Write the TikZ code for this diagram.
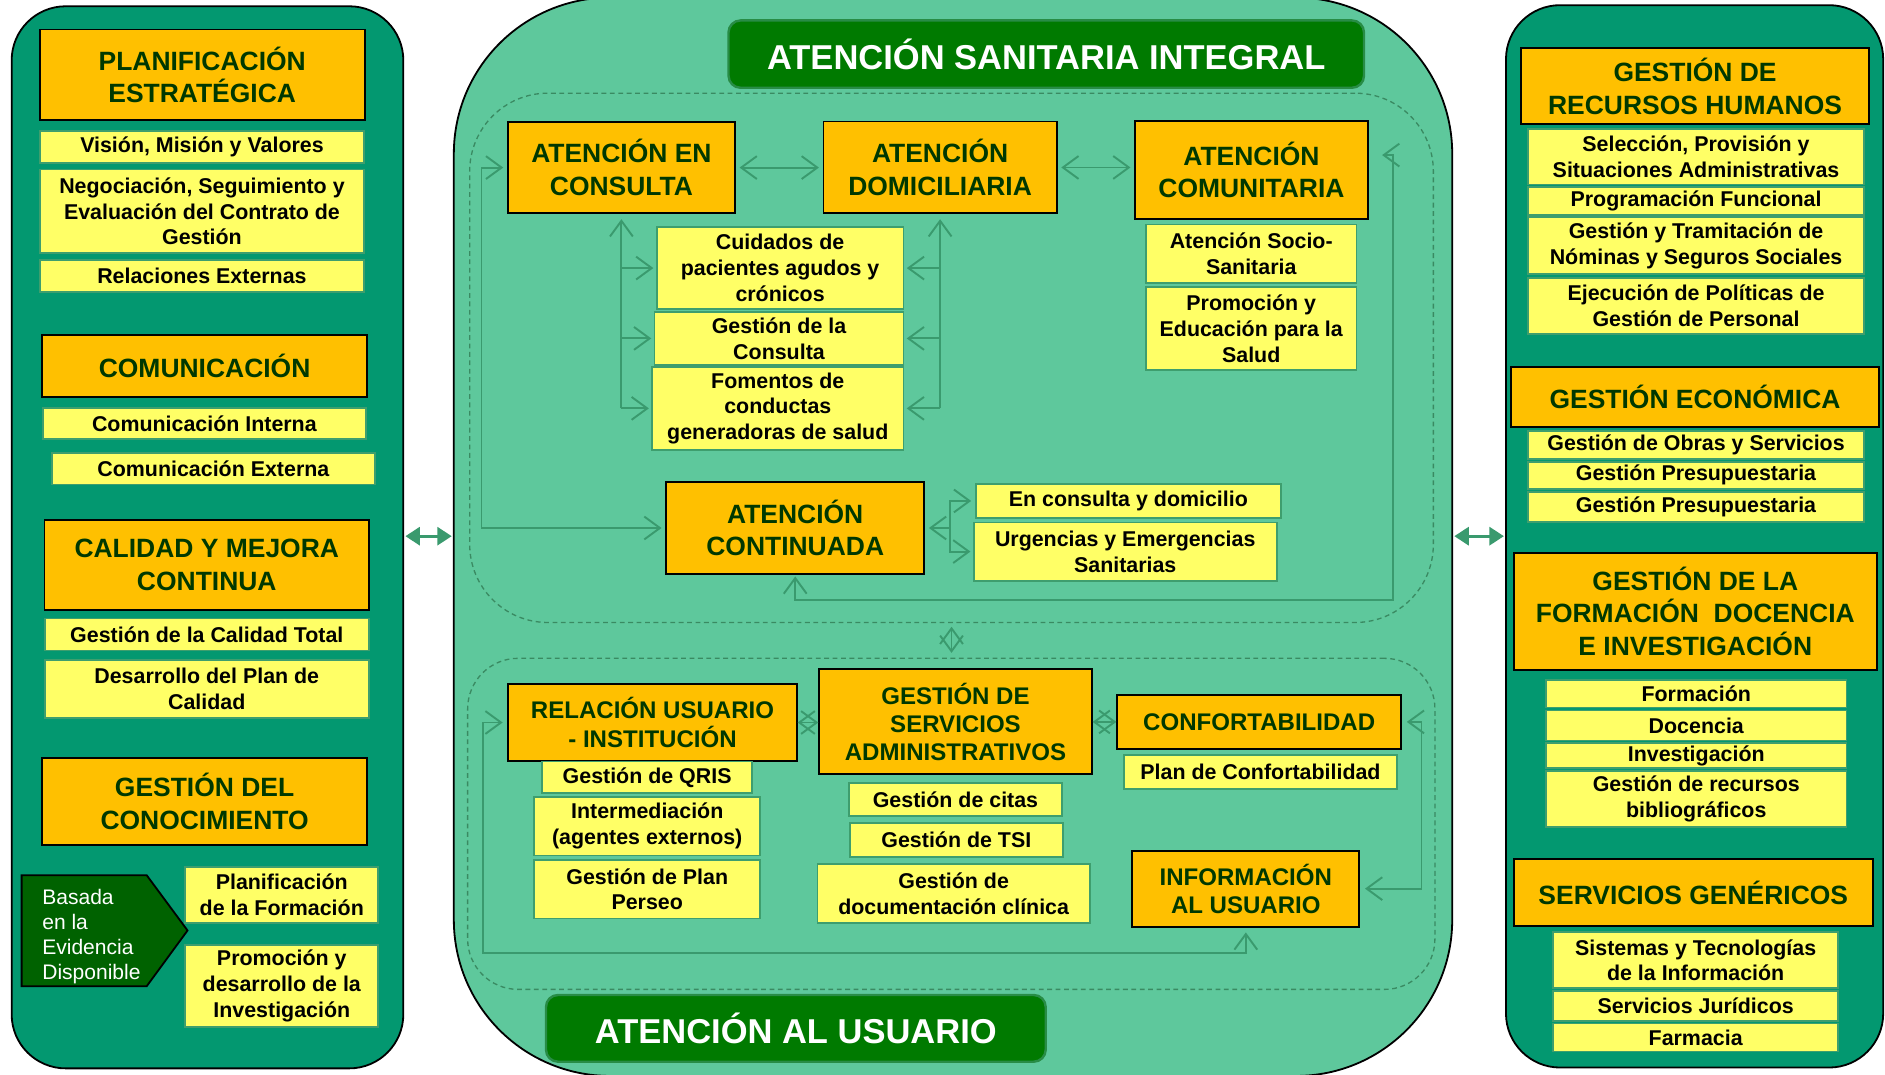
\documentclass[tikz,border=0pt]{standalone}
\usepackage{fontspec}
\setmainfont{Liberation Sans}
\usetikzlibrary{arrows.meta}
\definecolor{panelC}{RGB}{3,152,112}
\definecolor{centerC}{RGB}{94,200,156}
\definecolor{orangeC}{RGB}{255,192,0}
\definecolor{yellowC}{RGB}{255,255,102}
\definecolor{ybordC}{RGB}{62,158,110}
\definecolor{headC}{RGB}{0,56,0}
\definecolor{lineC}{RGB}{58,154,110}
\definecolor{dashC}{RGB}{58,138,98}
\definecolor{titleC}{RGB}{0,122,0}
\definecolor{titleBord}{RGB}{40,140,70}
\definecolor{basadaC}{RGB}{0,98,0}
\tikzset{
  sz/.style 2 args={minimum width=#1pt, minimum height=#2pt},
  panel/.style={draw=black, line width=1.5pt, fill=panelC, rounded corners=45pt, inner sep=0pt},
  cpanel/.style={draw=black, line width=1.5pt, fill=centerC, rounded corners=130pt, inner sep=0pt},
  obox/.style={draw=black, line width=1.6pt, fill=orangeC, text=headC, align=center, inner sep=0pt, font=\bfseries\fontsize{22}{27}\selectfont},
  mbox/.style={obox, font=\bfseries\fontsize{20}{23.5}\selectfont},
  ybox/.style={draw=ybordC, line width=1.5pt, fill=yellowC, text=black, align=center, inner sep=0pt, font=\bfseries\fontsize{17.8}{21.5}\selectfont},
  tbox/.style={draw=titleBord, line width=2pt, fill=titleC, text=white, rounded corners=10pt, inner sep=0pt, font=\bfseries\fontsize{28.7}{32}\selectfont},
  dbox/.style={draw=dashC, line width=1.1pt, dash pattern=on 4pt off 3pt, inner sep=0pt},
  conn/.style={draw=lineC, line width=1.6pt, >={Straight Barb[length=13pt,width=19pt]}},
  bigarr/.style={draw=lineC, line width=2.4pt, {Triangle[length=12pt,width=15pt]}-{Triangle[length=12pt,width=15pt]}},
  basadashape/.style={draw=black, line width=1.5pt, fill=basadaC},
  basadatext/.style={text=white, align=left, anchor=west, inner sep=0pt, font=\fontsize{17.5}{21}\selectfont},
}
\begin{document}
\begin{tikzpicture}[x=1pt,y=-1pt]
\useasboundingbox (0,0) rectangle (1568,894);
\fill[white] (0,0) rectangle (1568,894);

% panels
\node[panel, sz={325.8}{883.5}] (lp) at (172.6,446.95) {};
\node[panel, sz={313.8}{883.7}] (rp) at (1409.6,446.15) {};
\node[cpanel, sz={830.5}{897}] (cp) at (792.75,446.5) {};

\node[dbox, rounded corners=65pt, sz={801.6}{440.3}] (sec1) at (791.5,297.65) {};
\node[dbox, rounded corners=42pt, sz={804.6}{275.4}] (sec2) at (791.3,685.3) {};

\node[tbox, sz={528.6}{56}] (t1) at (870.3,45) {ATENCIÓN SANITARIA INTEGRAL};
\node[tbox, sz={415.7}{55.5}] (t2) at (662,855.4) {ATENCIÓN AL USUARIO};

% left panel
\node[obox, sz={270.5}{75.5}] (plan) at (168.2,62.3) {PLANIFICACIÓN\\ESTRATÉGICA};
\node[ybox, sz={269.5}{26.4}] (vision) at (168,122.3) {Visión, Misión y Valores};
\node[ybox, sz={269.5}{69.5}] (negoc) at (168,175.8) {Negociación, Seguimiento y\\Evaluación del Contrato de\\Gestión};
\node[ybox, sz={269.5}{26.7}] (relext) at (168,229.8) {Relaciones Externas};
\node[obox, sz={270.5}{51.5}] (comun) at (170.2,304.6) {COMUNICACIÓN};
\node[ybox, sz={269}{25.7}] (cint) at (170,352.2) {Comunicación Interna};
\node[ybox, sz={269}{26.4}] (cext) at (177.5,389.8) {Comunicación Externa};
\node[obox, sz={270}{74.5}] (calidad) at (172,469.8) {CALIDAD Y MEJORA\\CONTINUA};
\node[ybox, sz={269.5}{26.5}] (gct) at (172,527.8) {Gestión de la Calidad Total};
\node[ybox, sz={269.5}{48}] (desarr) at (172,573.3) {Desarrollo del Plan de\\Calidad};
\node[obox, sz={270.5}{72.4}] (conoc) at (170.2,666.5) {GESTIÓN DEL\\CONOCIMIENTO};
\draw[basadashape] (18,728) -- (122,728) -- (156,774) -- (122,820.4) -- (18,820.4) -- cycle;
\node[basadatext] (basada) at (35,779) {Basada\\en la\\Evidencia\\Disponible};
\node[ybox, sz={160.5}{47}] (planform) at (234.4,744.5) {Planificación\\de la Formación};
\node[ybox, sz={160.5}{68}] (promoinv) at (234.4,820) {Promoción y\\desarrollo de la\\Investigación};

% central upper
\node[obox, sz={189}{76.3}] (consulta) at (516.9,139.4) {ATENCIÓN EN\\CONSULTA};
\node[obox, sz={194}{76.5}] (domic) at (782,139.3) {ATENCIÓN\\DOMICILIARIA};
\node[obox, sz={193.7}{82}] (comunit) at (1041,141.3) {ATENCIÓN\\COMUNITARIA};
\node[ybox, sz={205.3}{68.7}] (cuidados) at (648.9,223) {Cuidados de\\pacientes agudos y\\crónicos};
\node[ybox, sz={207}{44.3}] (gconsulta) at (648,281.5) {Gestión de la\\Consulta};
\node[ybox, sz={209}{69.4}] (fomentos) at (647,339.7) {Fomentos de\\conductas\\generadoras de salud};
\node[ybox, sz={175.2}{48.6}] (socio) at (1040.8,211) {Atención Socio-\\Sanitaria};
\node[ybox, sz={175.2}{69.3}] (promoedu) at (1040.8,273.3) {Promoción y\\Educación para la\\Salud};
\node[obox, sz={214.8}{77}] (continuada) at (661.5,439.2) {ATENCIÓN\\CONTINUADA};
\node[ybox, sz={254}{27.7}] (encons) at (938.6,416.7) {En consulta y domicilio};
\node[ybox, sz={252}{48.5}] (urgen) at (936,458.8) {Urgencias y Emergencias\\Sanitarias};

% central lower
\node[mbox, sz={239.8}{63.5}] (relacion) at (542.8,601) {RELACIÓN USUARIO\\- INSTITUCIÓN};
\node[mbox, sz={226.6}{87.3}] (servicios) at (794.8,600.4) {GESTIÓN DE\\SERVICIOS\\ADMINISTRATIVOS};
\node[mbox, sz={236}{45}] (confort) at (1047.4,600.5) {CONFORTABILIDAD};
\node[ybox, sz={227}{28}] (planconf) at (1048.5,642) {Plan de Confortabilidad};
\node[mbox, sz={188.7}{63.2}] (info) at (1036.3,739.2) {INFORMACIÓN\\AL USUARIO};
\node[ybox, sz={175}{26.4}] (qris) at (538.3,646.7) {Gestión de QRIS};
\node[ybox, sz={188}{48.6}] (interm) at (538.4,687.3) {Intermediación\\(agentes externos)};
\node[ybox, sz={188}{48.7}] (perseo) at (538.4,739.7) {Gestión de Plan\\Perseo};
\node[ybox, sz={176.6}{28}] (citas) at (794.8,665) {Gestión de citas};
\node[ybox, sz={177}{27.7}] (tsi) at (795.5,698.7) {Gestión de TSI};
\node[ybox, sz={226.7}{49}] (docum) at (793.3,743.5) {Gestión de\\documentación clínica};

% right panel
\node[obox, sz={290}{63}] (rrhh) at (1410,71.7) {GESTIÓN DE\\RECURSOS HUMANOS};
\node[ybox, sz={279.5}{46}] (selec) at (1410.8,130.5) {Selección, Provisión y\\Situaciones Administrativas};
\node[ybox, sz={279.5}{23.5}] (progf) at (1410.8,167.2) {Programación Funcional};
\node[ybox, sz={279.5}{47.3}] (nomin) at (1410.8,204.4) {Gestión y Tramitación de\\Nóminas y Seguros Sociales};
\node[ybox, sz={279.5}{47}] (ejec) at (1410.8,254.5) {Ejecución de Políticas de\\Gestión de Personal};
\node[obox, sz={306}{50}] (econ) at (1410,330) {GESTIÓN ECONÓMICA};
\node[ybox, sz={279.5}{23.5}] (obras) at (1410.8,370.3) {Gestión de Obras y Servicios};
\node[ybox, sz={279.5}{22.5}] (pres1) at (1410.8,395.3) {Gestión Presupuestaria};
\node[ybox, sz={279.5}{25}] (pres2) at (1410.8,421.5) {Gestión Presupuestaria};
\node[obox, sz={301.6}{97}] (formdi) at (1410.2,508.5) {GESTIÓN DE LA\\FORMACIÓN\ \ DOCENCIA\\E INVESTIGACIÓN};
\node[ybox, sz={250}{23}] (formac) at (1411,577) {Formación};
\node[ybox, sz={250}{25}] (docen) at (1411,603.5) {Docencia};
\node[ybox, sz={250}{21}] (investig) at (1411,628.5) {Investigación};
\node[ybox, sz={250}{47}] (biblio) at (1411,664.5) {Gestión de recursos\\bibliográficos};
\node[obox, sz={299}{56}] (servgen) at (1408.5,742.5) {SERVICIOS GENÉRICOS};
\node[ybox, sz={237}{46.6}] (sist) at (1410.5,798.7) {Sistemas y Tecnologías\\de la Información};
\node[ybox, sz={237}{25.5}] (jurid) at (1410.5,836.8) {Servicios Jurídicos};
\node[ybox, sz={237}{23.2}] (farm) at (1410.5,863) {Farmacia};

% connectors between panels
\coordinate (yA) at (0,446);
\draw[bigarr, shorten <=1pt, shorten >=1pt] (lp.east |- yA) -- (cp.west |- yA);
\draw[bigarr, shorten <=1pt, shorten >=1pt] (cp.east |- yA) -- (rp.west |- yA);

% upper section
\draw[conn,<->,shorten <=3pt,shorten >=3pt] (consulta.east) -- (consulta.east -| domic.west);
\draw[conn,<->,shorten <=3pt,shorten >=3pt] (domic.east) -- (domic.east -| comunit.west);

\coordinate (cL) at (consulta.south |- fomentos.west);
\draw[conn,->,shorten >=4pt] (cL) -- (consulta.south);
\draw[conn,->,shorten >=2pt] (consulta.south |- cuidados.west) -- (cuidados.west);
\draw[conn,->,shorten >=2pt] (consulta.south |- gconsulta.west) -- (gconsulta.west);
\draw[conn,->,shorten >=2pt] (cL) -- (fomentos.west);

\coordinate (cR) at (domic.south |- fomentos.east);
\draw[conn,->,shorten >=4pt] (cR) -- (domic.south);
\draw[conn,->,shorten >=2pt] (domic.south |- cuidados.east) -- (cuidados.east);
\draw[conn,->,shorten >=2pt] (domic.south |- gconsulta.east) -- (gconsulta.east);
\draw[conn,->,shorten >=2pt] (cR) -- (fomentos.east);

\coordinate (lB) at (400.5,439.2);
\draw[conn,<->,shorten <=3pt,shorten >=3pt] (consulta.west) -| (lB) -- (continuada.west);

\coordinate (rB) at (1159,499);
\coordinate (rT) at (1159,129);
\draw[conn,<->,shorten <=1pt,shorten >=11pt] (continuada.south) |- (rB) -- (rT) -- (rT -| comunit.east);

\coordinate (fJ) at (790.3,439.2);
\draw[conn,->,shorten >=3pt] (fJ) -- (continuada.east);
\draw[conn,->,shorten >=3pt] (fJ) |- (encons.west);
\draw[conn,->,shorten >=2pt] (fJ) |- (urgen.west);

% between sections
\draw[conn,<->,shorten <=3pt,shorten >=4pt] (sec1.south) -- (sec1.south |- sec2.north);

% lower section
\draw[conn,<->] (relacion.east) -- (relacion.east -| servicios.west);
\draw[conn,<->] (servicios.east |- confort.west) -- (confort.west);

\coordinate (gB) at (401.5,793);
\draw[conn,<->,shorten <=4pt,shorten >=4pt] (relacion.west) -| (gB) -| (info.south);

\coordinate (gR) at (1182.4,739.2);
\draw[conn,<->,shorten <=4pt,shorten >=4pt] (confort.east) -| (gR) -- (info.east);
\end{tikzpicture}
\end{document}
